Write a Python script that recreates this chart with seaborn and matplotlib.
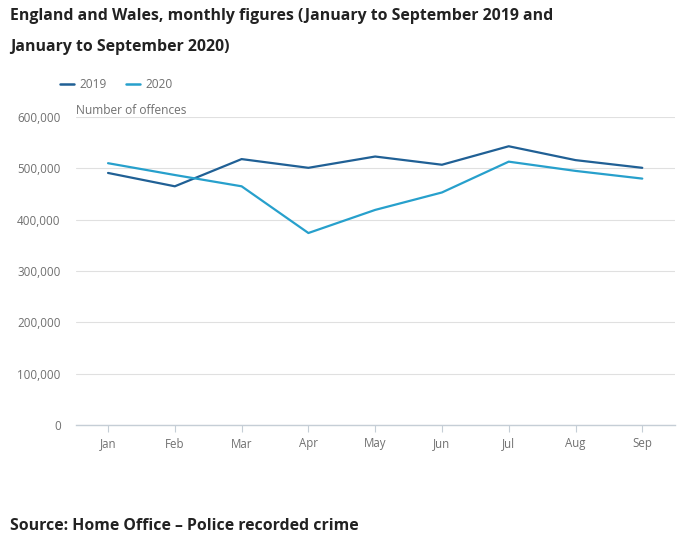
import matplotlib
matplotlib.use("Agg")
import matplotlib.pyplot as plt
import seaborn as sns
import pandas as pd
from matplotlib.ticker import FuncFormatter
from matplotlib.lines import Line2D

months = ["Jan", "Feb", "Mar", "Apr", "May", "Jun", "Jul", "Aug", "Sep"]
offences_2019 = [491000, 465000, 518000, 501000, 523000, 507000, 543000, 516000, 501000]
offences_2020 = [510000, 487000, 465000, 374000, 419000, 453000, 513000, 495000, 480000]
series_names = ["2019", "2020"]
y_ticks = [0, 100000, 200000, 300000, 400000, 500000, 600000]

df = pd.DataFrame({
    "month": months * 2,
    "value": offences_2019 + offences_2020,
    "year": [series_names[0]] * len(months) + [series_names[1]] * len(months),
})

sns.set_theme(style="white")
plt.rcParams["font.family"] = ["Open Sans", "DejaVu Sans"]

colors = {"2019": "#206095", "2020": "#27a0cc"}
grey_text = "#707070"

fig = plt.figure(figsize=(6.92, 5.45), dpi=100)
ax = fig.add_axes([76 / 692, 1 - 425 / 545, (675 - 76) / 692, (425 - 117) / 545])

sns.lineplot(data=df, x="month", y="value", hue="year", palette=colors,
             linewidth=1.6, ax=ax, legend=False, sort=False)

ax.set_xlim(-0.48, 8.49)
ax.set_ylim(0, 600000)
ax.set_yticks(y_ticks)
ax.yaxis.set_major_formatter(FuncFormatter(lambda v, p: f"{int(v):,}"))
ax.set_xlabel("")
ax.set_ylabel("")
ax.grid(axis="y", color="#e0e0e0", linewidth=0.8)
ax.grid(axis="x", visible=False)
for s in ["top", "right", "left"]:
    ax.spines[s].set_visible(False)
ax.spines["bottom"].set_color("#c5ced6")
ax.spines["bottom"].set_linewidth(1.0)
ax.tick_params(axis="x", which="both", bottom=True, length=5, width=0.8,
               color="#c5ced6", labelsize=8.3, labelcolor=grey_text, pad=4)
ax.tick_params(axis="y", length=0, labelsize=8.4, labelcolor=grey_text, pad=11)
for lab in ax.get_yticklabels():
    lab.set_horizontalalignment("right")

fig.text(76 / 692, 1 - 110 / 545, "Number of offences", fontsize=8.6,
         color=grey_text, va="center", ha="left")

fig.text(10 / 692, 1 - 16 / 545,
         "England and Wales, monthly figures (January to September 2019 and",
         fontsize=11.45, fontweight="bold", color="#222222", va="center", ha="left")
fig.text(10 / 692, 1 - 47 / 545, "January to September 2020)",
         fontsize=11.45, fontweight="bold", color="#222222", va="center", ha="left")
fig.text(10 / 692, 1 - 526 / 545, "Source: Home Office \u2013 Police recorded crime",
         fontsize=11.45, fontweight="bold", color="#222222", va="center", ha="left")

handles = [Line2D([0], [0], color=colors[n], linewidth=1.8) for n in series_names]
fig.legend(handles, series_names, loc="center left",
           bbox_to_anchor=(49 / 692, 1 - 85 / 545), ncol=2, frameon=False,
           fontsize=8.6, labelcolor=grey_text, handlelength=1.2,
           handletextpad=0.45, columnspacing=1.6)

fig.savefig("out.png", dpi=100, facecolor="white")
